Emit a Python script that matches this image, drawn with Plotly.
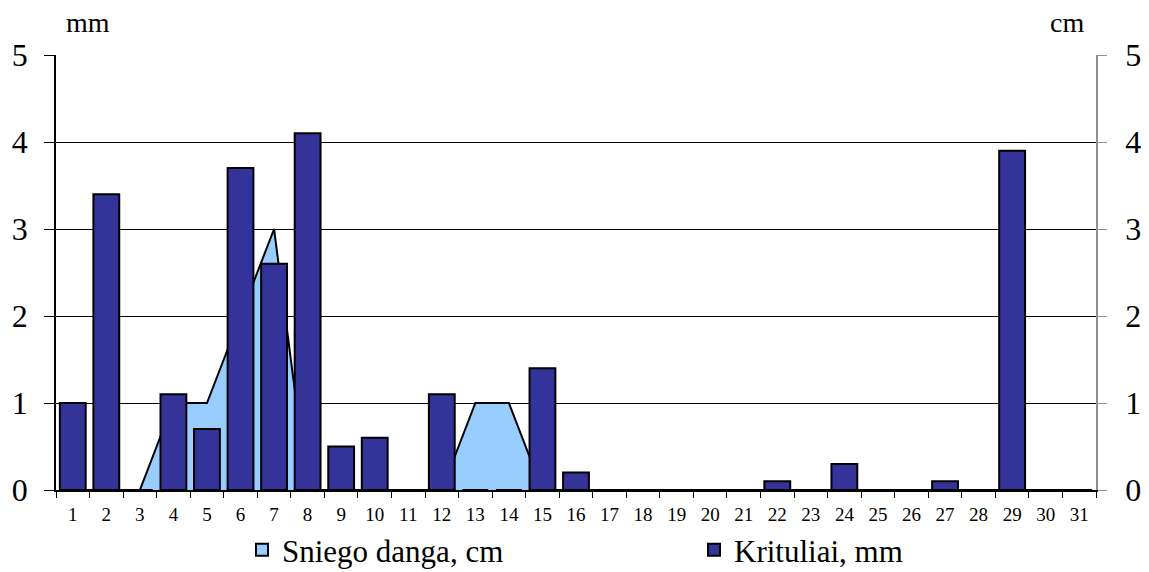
import plotly.graph_objects as go

days = [str(d) for d in range(1, 32)]
precip_mm = [1.0, 3.4, 0, 1.1, 0.7, 3.7, 2.6, 4.1, 0.5, 0.6, 0, 1.1, 0, 0, 1.4, 0.2,
             0, 0, 0, 0, 0, 0.1, 0, 0.3, 0, 0, 0.1, 0, 3.9, 0, 0]
snow_cm = [0, 0, 0, 1, 1, 2, 3, 0, 0, 0, 0, 0, 1, 1, 0, 0,
           0, 0, 0, 0, 0, 0, 0, 0, 0, 0, 0, 0, 0, 0, 0]
y_ticks = [0, 1, 2, 3, 4, 5]

SERIF = "Liberation Serif"
SNOW_C = "#99CCFF"
RAIN_C = "#333399"

# the page body has an 8px margin, so the figure starts at (8, 8) on screen
OFF = 8
SCR_W, SCR_H = 1149, 572
W, H = SCR_W - 2 * OFF, SCR_H - OFF
PLOT_X0, PLOT_X1, PLOT_Y0, PLOT_Y1 = 56, 1096, 55, 490   # screen px
L, R = PLOT_X0 - OFF, (OFF + W) - PLOT_X1
T, B = PLOT_Y0 - OFF, (OFF + H) - PLOT_Y1
plot_w = PLOT_X1 - PLOT_X0
plot_h = PLOT_Y1 - PLOT_Y0


def px_x(px):
    return (px - PLOT_X0) / plot_w


def px_y(py):
    return (PLOT_Y1 - py) / plot_h


fig = go.Figure()

# snow area (primary axis, drawn beneath bars)
fig.add_trace(go.Scatter(
    x=days, y=snow_cm, mode="lines", fill="tozeroy",
    fillcolor=SNOW_C, line=dict(color="black", width=2),
    showlegend=False, hoverinfo="skip", yaxis="y"))

# precipitation bars (overlay axis)
fig.add_trace(go.Bar(
    x=days, y=precip_mm, marker=dict(color=RAIN_C, line=dict(color="black", width=2)),
    width=0.77, showlegend=False, yaxis="y2"))

# legend entries
fig.add_trace(go.Bar(x=[None], y=[None], name="Sniego danga, cm",
                     marker=dict(color=SNOW_C, line=dict(color="black", width=2)),
                     yaxis="y2", legend="legend"))
fig.add_trace(go.Bar(x=[None], y=[None], name="Krituliai, mm",
                     marker=dict(color=RAIN_C, line=dict(color="black", width=2)),
                     yaxis="y2", legend="legend2"))

legend_common = dict(orientation="h", yanchor="middle", xanchor="left",
                     font=dict(size=31, family=SERIF), bgcolor="rgba(0,0,0,0)",
                     itemclick=False, itemwidth=30, tracegroupgap=0)

fig.update_layout(
    width=W, height=H,
    margin=dict(l=L, r=R, t=T, b=B, autoexpand=False),
    paper_bgcolor="white", plot_bgcolor="white",
    font=dict(family=SERIF, color="black"),
    xaxis=dict(
        type="category", categoryorder="array", categoryarray=days,
        range=[-0.5, 30.5], tickson="boundaries",
        ticks="outside", ticklen=6, tickcolor="black", tickwidth=1,
        showline=True, linecolor="black", linewidth=1.5,
        showgrid=False, tickfont=dict(size=19, family=SERIF),
        ticklabelstandoff=6, fixedrange=True),
    yaxis=dict(
        range=[0, 5], tickvals=y_ticks, ticktext=[str(v) for v in y_ticks],
        showgrid=True, gridcolor="black", gridwidth=1,
        showline=True, linecolor="black", linewidth=1.5,
        ticks="outside", ticklen=10, tickcolor="black",
        tickfont=dict(size=32, family=SERIF), zeroline=False,
        ticklabelstandoff=10),
    yaxis2=dict(
        range=[0, 5], tickvals=y_ticks, ticktext=[str(v) for v in y_ticks],
        overlaying="y", side="right", showgrid=False,
        showline=True, linecolor="#909090", linewidth=1.5,
        ticks="outside", ticklen=9, tickcolor="#909090",
        tickfont=dict(size=32, family=SERIF), zeroline=False,
        ticklabelstandoff=12),
    legend=dict(x=px_x(242), y=px_y(550), **legend_common),
    legend2=dict(x=px_x(694), y=px_y(550), **legend_common),
    annotations=[
        dict(text="mm", x=px_x(88), y=px_y(22), xref="paper", yref="paper",
             xanchor="center", yanchor="middle",
             showarrow=False, font=dict(size=28, family=SERIF)),
        dict(text="cm", x=px_x(1067), y=px_y(22), xref="paper", yref="paper",
             xanchor="center", yanchor="middle",
             showarrow=False, font=dict(size=28, family=SERIF)),
    ],
)

fig.write_html("out.html")
